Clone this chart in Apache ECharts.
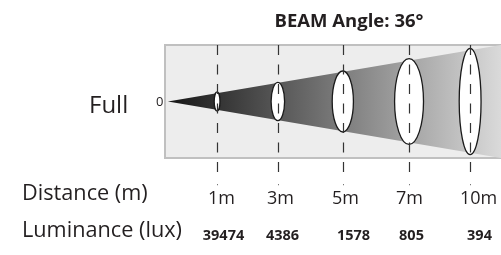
<!DOCTYPE html>
<html lang="en">
<head>
<meta charset="utf-8">
<style>
  html, body, #container {
    width: 100%;
    height: 100%;
    margin: 0;
    padding: 0;
    background: #fff;
  }
</style>
</head>
<body>
<div id="container"></div>
<script src="https://cdn.jsdelivr.net/npm/echarts@6/dist/echarts.min.js"></script>
<script>
  var distances = ['1m', '3m', '5m', '7m', '10m'];
  var luxValues = [39474, 4386, 1578, 805, 394];
  var beamAngle = 36;
  var beamLabel = 'Full';

  // schematic layout of the drawing (axis units), kept apart from the data
  var markX = [1.53, 3.42, 5.44, 7.5, 9.4];
  var spotRx = [0.09, 0.21, 0.33, 0.45, 0.34];
  var spotRy = [0.17, 0.34, 0.54, 0.76, 0.94];
  var distShift = [4, 2, 2, 0, 8];
  var luxShift = [6, 4, 10, 2, 9];

  var X_MIN = -0.09, X_MAX = 10.36;
  var FONT = '"Open Sans", "Noto Sans", sans-serif';
  var INK = '#231f20';

  var dom = document.getElementById('container');
  var myChart = echarts.init(dom, null, { renderer: 'canvas' });

  var option = {
    animation: false,
    title: {
      text: 'BEAM Angle: ' + beamAngle + '°',
      left: 349,
      top: 12,
      padding: 0,
      textAlign: 'center',
      textStyle: { fontFamily: FONT, fontSize: 18.5, fontWeight: 'bold', color: INK }
    },
    grid: {
      left: 165,
      right: -12,
      top: 45,
      bottom: 97,
      show: true,
      backgroundColor: '#ededed',
      borderColor: '#c0c0c0',
      borderWidth: 2
    },
    xAxis: { type: 'value', min: X_MIN, max: X_MAX, show: false },
    yAxis: { type: 'value', min: -1, max: 1, show: false },
    graphic: [
      { type: 'text', left: 89, top: 94, style: { text: beamLabel, font: '24px ' + FONT, fill: INK } },
      { type: 'text', left: 156, top: 96, style: { text: '0', font: '13px ' + FONT, fill: INK } },
      { type: 'text', left: 22, top: 183, style: { text: 'Distance (m)', font: '21.7px ' + FONT, fill: INK } },
      { type: 'text', left: 22, top: 220, style: { text: 'Luminance (lux)', font: '21.7px ' + FONT, fill: INK } }
    ],
    series: [
      {
        // light cone
        type: 'custom',
        data: [[0, 0]],
        renderItem: function (params, api) {
          var a = api.coord([0, 0]);
          var t = api.coord([X_MAX, 1.0]);
          var b = api.coord([X_MAX, -1.0]);
          return {
            type: 'polygon',
            shape: { points: [a, t, b] },
            style: {
              fill: new echarts.graphic.LinearGradient(0, 0, 1, 0, [
                { offset: 0, color: '#161616' },
                { offset: 1, color: '#dadada' }
              ])
            }
          };
        }
      },
      {
        // spots
        type: 'custom',
        data: markX.map(function (x, i) { return [x, 0, spotRx[i], spotRy[i]]; }),
        renderItem: function (params, api) {
          var c = api.coord([api.value(0), api.value(1)]);
          var s = api.size([api.value(2), api.value(3)]);
          return {
            type: 'ellipse',
            shape: { cx: c[0], cy: c[1], rx: s[0], ry: s[1] },
            style: { fill: '#fff', stroke: '#1a1a1a', lineWidth: 1.3 }
          };
        }
      },
      {
        // distance markers and labels
        type: 'custom',
        data: markX.map(function (x, i) { return [x, i]; }),
        renderItem: function (params, api) {
          var i = api.value(1);
          var top = api.coord([api.value(0), 1]);
          var x = Math.round(top[0]) + 0.5;
          return {
            type: 'group',
            children: [
              {
                type: 'line',
                shape: { x1: x, y1: top[1], x2: x, y2: 172 },
                style: { stroke: '#333', lineWidth: 1.2, lineDash: [10, 9.5] }
              },
              {
                type: 'rect',
                shape: { x: x - 0.5, y: 184, width: 1, height: 1.2 },
                style: { fill: '#777' }
              },
              {
                type: 'text',
                x: x + distShift[i],
                y: 199,
                style: {
                  text: distances[i], font: '18px ' + FONT, fill: INK,
                  align: 'center', verticalAlign: 'middle'
                }
              },
              {
                type: 'text',
                x: x + luxShift[i],
                y: 236,
                style: {
                  text: String(luxValues[i]), font: 'bold 14.5px ' + FONT, fill: INK,
                  align: 'center', verticalAlign: 'middle'
                }
              }
            ]
          };
        }
      }
    ]
  };

  myChart.setOption(option);
  window.addEventListener('resize', myChart.resize);
</script>
</body>
</html>
